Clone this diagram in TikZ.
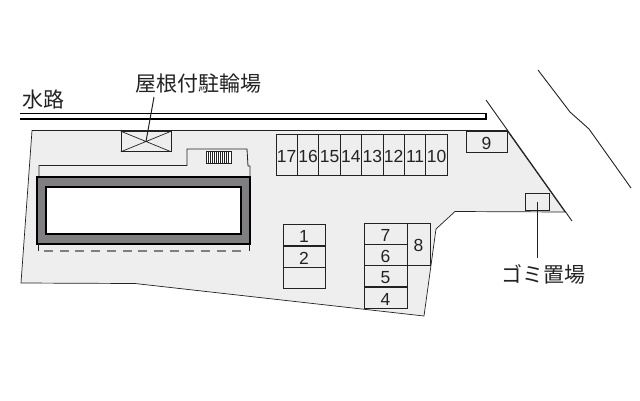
\documentclass[tikz,border=0pt]{standalone}
\usepackage{fontspec}
\setmainfont{Liberation Sans}
\newfontfamily\cjk{Noto Sans CJK JP}
\definecolor{lotgray}{HTML}{EEEEEE}
\definecolor{wallgray}{HTML}{807E80}
\definecolor{inkgray}{HTML}{222222}
\tikzset{
  stall/.style={draw=inkgray, line width=.7pt, inner sep=0pt, text=inkgray, text height=15pt, text depth=0pt, font=\fontsize{17.5}{18}\selectfont},
  stallv/.style={stall, text height=16.5pt, minimum width=21.4pt, minimum height=41pt},
  stallh/.style={stall, minimum width=42pt, minimum height=21.2pt},
  caption/.style={inner sep=0pt, text=inkgray, font=\cjk\fontsize{21}{22}\selectfont},
  leader/.style={draw=inkgray, line width=1pt}
}

\begin{document}
\begin{tikzpicture}[x=1pt,y=-1pt]
\useasboundingbox (0,0) rectangle (640,400);
% site
\draw[fill=lotgray, draw=inkgray, line width=.7pt]
   (32,130.5) -- (507,130.5) -- (565,212) -- (455,211.5) -- (436,229) -- (424,316)
   -- (135,283.5) -- (21,283) -- cycle;
% water channel
\draw[draw=black, line width=1.3pt, fill=white] (20,113.5) -- (486,113.5) -- (486,119) -- (20,119);
% roads
\draw[draw=inkgray, line width=.9pt] (486,100) -- (572,221);
\draw[draw=inkgray, line width=.9pt] (538,70) -- (570,112) -- (589,129) -- (631,188);
% bicycle shed
\node[draw=inkgray, line width=.7pt, fill=lotgray, inner sep=0pt, minimum width=50pt, minimum height=20pt] (shed) at (146,141.5) {};
\draw[draw=inkgray, line width=.7pt] (shed.north west) -- (shed.south east) (shed.north east) -- (shed.south west);
\node[caption] (shed_lbl) at (198,84) {屋根付駐輪場};
\coordinate (shed_top) at (154,97);
\draw[leader] (shed_top) -- (shed.center);
% canal label
\node[caption] (canal_lbl) at (43,100) {水路};
% wall around the yard
\draw[draw=inkgray, line width=.8pt] (39,177) -- (39,165.5) -- (187,165.5) -- (187,149) -- (247,149) -- (248,166) -- (250,166) -- (250,177);
% stairs
\node[draw=inkgray, line width=.6pt, fill=white, inner sep=0pt, minimum width=25pt, minimum height=12pt] (stairs) at (218.5,157) {};
\foreach \i in {1,...,11}
  \draw[draw=inkgray, line width=.6pt] (206+2*\i,151) -- (206+2*\i,163);
% building
\draw[draw=black, line width=2pt, fill=wallgray] (36.5,177) rectangle (250,244);
\draw[draw=black, line width=2pt, fill=white] (46,187) rectangle (241,234);
\draw[draw=wallgray, line width=1.1pt, dash pattern=on 9pt off 6.7pt] (44,251) -- (243,251);
\draw[draw=inkgray, line width=.7pt] (38,244) -- (38,251) (249,244) -- (249,251);
% parking, upper row
\node[stallv] (p17) at (286.7,154.5) {17};
\node[stallv] (p16) at (308.1,154.5) {16};
\node[stallv] (p15) at (329.5,154.5) {15};
\node[stallv] (p14) at (350.9,154.5) {14};
\node[stallv] (p13) at (372.3,154.5) {13};
\node[stallv] (p12) at (393.7,154.5) {12};
\node[stallv] (p11) at (415.1,154.5) {11};
\node[stallv] (p10) at (436.5,154.5) {10};
\node[stall, minimum width=41pt, minimum height=21pt] (p9) at (486.5,141.5) {9};
% parking, middle
\node[stallh] (p1) at (304,235) {1};
\node[stallh] (p2) at (304,256.5) {2};
\node[stallh] (p0) at (304,277.5) {};
% parking, right block
\node[stallh, minimum width=43pt] (p7) at (385.5,233.5) {7};
\node[stallh, minimum width=43pt] (p6) at (385.5,254.5) {6};
\node[stallh, minimum width=43pt] (p5) at (385.5,276) {5};
\node[stallh, minimum width=43pt] (p4) at (385.5,297.5) {4};
\node[stall, minimum width=23pt, minimum height=42pt] (p8) at (418.5,244) {8};
% garbage
\node[draw=inkgray, line width=.7pt, inner sep=0pt, minimum width=24pt, minimum height=17pt] (trash) at (537,201.5) {};
\node[caption] (trash_lbl) at (543,274) {ゴミ置場};
\coordinate (trash_end) at (537,258);
\draw[leader] (trash.center) -- (trash_end);
\end{tikzpicture}
\end{document}
